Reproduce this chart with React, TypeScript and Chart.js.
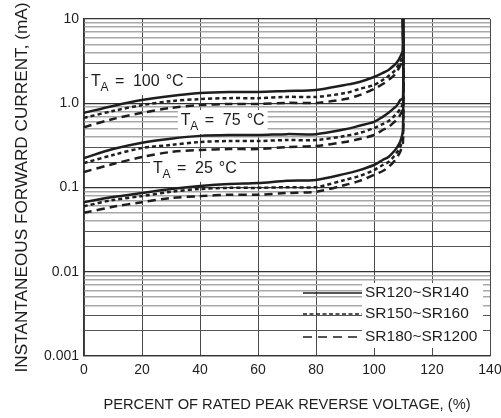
import React, { useEffect, useRef } from 'react';
import { Chart, registerables } from 'chart.js';

Chart.register(...registerables);

// ---- data ----
const xValues = [0, 10, 20, 30, 40, 50, 60, 70, 80, 90, 95, 100, 103, 105, 107, 108, 109, 110, 110];

const t100Solid = [0.77, 0.93, 1.09, 1.22, 1.32, 1.36, 1.36, 1.4, 1.44, 1.65, 1.79, 2.05, 2.29, 2.48, 2.84, 3.09, 3.54, 4.29, 10];
const t100Short = [0.67, 0.81, 0.95, 1.06, 1.12, 1.15, 1.15, 1.19, 1.19, 1.32, 1.48, 1.65, 1.89, 2.11, 2.41, 2.69, 3.09, 3.74, 10];
const t100Long = [0.52, 0.65, 0.77, 0.88, 0.95, 0.98, 0.98, 1.01, 1.01, 1.12, 1.25, 1.48, 1.69, 1.89, 2.16, 2.41, 2.77, 3.44, 10];

const t75Solid = [0.224, 0.286, 0.34, 0.38, 0.41, 0.42, 0.42, 0.43, 0.43, 0.49, 0.54, 0.6, 0.69, 0.77, 0.88, 0.95, 1.09, 1.15, 10];
const t75Short = [0.195, 0.243, 0.294, 0.32, 0.347, 0.356, 0.356, 0.366, 0.366, 0.409, 0.444, 0.509, 0.567, 0.616, 0.706, 0.766, 0.855, 1.007, 10];
const t75Long = [0.153, 0.19, 0.23, 0.264, 0.279, 0.286, 0.286, 0.302, 0.311, 0.347, 0.376, 0.42, 0.481, 0.523, 0.599, 0.65, 0.725, 0.878, 10];

const t25Solid = [0.067, 0.077, 0.086, 0.096, 0.104, 0.11, 0.113, 0.12, 0.123, 0.145, 0.161, 0.185, 0.212, 0.23, 0.271, 0.302, 0.347, 0.481, 10];
const t25Short = [0.06, 0.071, 0.079, 0.089, 0.096, 0.099, 0.099, 0.101, 0.101, 0.123, 0.137, 0.161, 0.185, 0.201, 0.237, 0.264, 0.302, 0.398, 10];
const t25Long = [0.05, 0.059, 0.067, 0.075, 0.079, 0.082, 0.082, 0.086, 0.089, 0.107, 0.12, 0.141, 0.157, 0.175, 0.206, 0.23, 0.264, 0.347, 10];

const seriesNames = ['SR120~SR140', 'SR150~SR160', 'SR180~SR1200'];
const tempLabels = ['100', '75', '25'];
const tempLabelX = [2.4, 33.4, 23.8];
const tempLabelY = [1.6, 0.552, 0.149];

const xTicks = [0, 20, 40, 60, 80, 100, 120, 140];
const yTickValues = [0.001, 0.01, 0.1, 1, 10];
const yTickLabels = ['0.001', '0.01', '0.1', '1.0', '10'];

const xTitle = 'PERCENT OF RATED PEAK REVERSE VOLTAGE, (%)';
const yTitle = 'INSTANTANEOUS FORWARD CURRENT, (mA)';

// ---- styling ----
const INK = '#1e1e1e';
const SANS = '"Liberation Sans", Arial, sans-serif';
const dashStyles: number[][] = [[], [4, 3], [8, 5]];
const legendDash: number[][] = [[], [4, 2.5], [9, 6]];

const groups = [
  [t100Solid, t100Short, t100Long],
  [t75Solid, t75Short, t75Long],
  [t25Solid, t25Short, t25Long],
];

const yGridTicks: number[] = [];
yTickValues.slice(0, -1).forEach((d) => {
  for (let m = 1; m <= 9; m++) yGridTicks.push(parseFloat((m * d).toPrecision(6)));
});
yGridTicks.push(yTickValues[yTickValues.length - 1]);

const isDecade = (v: number) => Math.abs(Math.log10(v) - Math.round(Math.log10(v))) < 1e-6;
const mantissa = (v: number) => Math.round(v / Math.pow(10, Math.floor(Math.log10(v) + 1e-9)));

const overlayPlugin = {
  id: 'overlay',
  beforeDatasetsDraw(chart: any) {
    const { ctx, chartArea, scales } = chart;
    const xs = scales.x;
    const ys = scales.y;
    ctx.save();
    // temperature labels
    tempLabels.forEach((t, i) => {
      const px = xs.getPixelForValue(tempLabelX[i]);
      const py = ys.getPixelForValue(tempLabelY[i]);
      ctx.font = `16px ${SANS}`;
      const numW = ctx.measureText(t).width;
      const cW = ctx.measureText('°C').width;
      const numX = px + 42;
      const cX = numX + numW + 6;
      ctx.fillStyle = '#ffffff';
      ctx.fillRect(px - 3, py - 15, cX + cW + 3 - (px - 3), 24);
      ctx.fillStyle = INK;
      ctx.textBaseline = 'alphabetic';
      ctx.textAlign = 'left';
      ctx.fillText('T', px, py);
      ctx.fillText('=', px + 24, py);
      ctx.fillText(t, numX, py);
      ctx.fillText('°C', cX, py);
      ctx.font = `12px ${SANS}`;
      ctx.fillText('A', px + 9.5, py + 5);
    });
    // legend
    const r = chartArea.right;
    const b = chartArea.bottom;
    ctx.fillStyle = '#ffffff';
    ctx.fillRect(r - 128, b - 73, 121, 65);
    const rowsY = [b - 63, b - 42, b - 19];
    seriesNames.forEach((name, i) => {
      ctx.beginPath();
      ctx.setLineDash(legendDash[i]);
      ctx.lineWidth = 1.5;
      ctx.strokeStyle = INK;
      ctx.moveTo(r - 187, rowsY[i]);
      ctx.lineTo(r - 128, rowsY[i]);
      ctx.stroke();
      ctx.setLineDash([]);
      ctx.fillStyle = INK;
      ctx.font = `15.5px ${SANS}`;
      ctx.textBaseline = 'middle';
      ctx.textAlign = 'left';
      ctx.fillText(name, r - 125, rowsY[i]);
    });
    ctx.restore();
  },
};

export default function App() {
  const canvasRef = useRef<HTMLCanvasElement | null>(null);

  useEffect(() => {
    if (!canvasRef.current) return;
    const datasets: any[] = [];
    groups.forEach((g) => {
      g.forEach((vals, s) => {
        datasets.push({
          label: seriesNames[s],
          data: xValues.map((x, i) => ({ x, y: vals[i] })),
          borderColor: INK,
          borderWidth: 2.5,
          borderDash: dashStyles[s],
          pointRadius: 0,
          tension: 0.3,
          fill: false,
        });
      });
    });

    const chart = new Chart(canvasRef.current, {
      type: 'line',
      data: { datasets },
      options: {
        animation: false,
        responsive: false,
        devicePixelRatio: 1,
        layout: { padding: { left: 0, right: 11, top: 19, bottom: 0 } },
        plugins: { legend: { display: false }, tooltip: { enabled: false } },
        scales: {
          x: {
            type: 'linear',
            min: 0,
            max: 140,
            afterBuildTicks: (scale: any) => {
              scale.ticks = xTicks.map((v) => ({ value: v }));
            },
            afterFit: (scale: any) => {
              scale.height = 62;
              scale.paddingLeft = 0;
              scale.paddingRight = 0;
            },
            ticks: {
              color: INK,
              padding: 6,
              font: { family: SANS, size: 14 },
              callback: (v: any) => String(v),
            },
            grid: { color: '#4a4a4a', lineWidth: 1, drawTicks: false },
            border: { color: '#333', width: 1.2 },
            title: {
              display: true,
              text: xTitle,
              color: INK,
              font: { family: SANS, size: 14.7 },
              padding: { top: 0, bottom: 4 },
            },
          },
          y: {
            type: 'logarithmic',
            min: 0.001,
            max: 10,
            afterBuildTicks: (scale: any) => {
              scale.ticks = yGridTicks.map((v) => ({ value: v }));
            },
            afterFit: (scale: any) => {
              scale.width = 84;
              scale.paddingTop = 0;
              scale.paddingBottom = 0;
            },
            ticks: {
              color: INK,
              padding: 5,
              autoSkip: false,
              font: { family: SANS, size: 14 },
              callback: (v: any) => {
                const idx = yTickValues.findIndex((t) => Math.abs(t - v) / t < 1e-6);
                return idx >= 0 ? yTickLabels[idx] : '';
              },
            },
            grid: {
              drawTicks: false,
              color: (c: any) => {
                const v = c.tick ? c.tick.value : 1;
                if (isDecade(v)) return '#333';
                return mantissa(v) <= 3 ? '#555' : '#a8a8a8';
              },
              lineWidth: (c: any) => {
                const v = c.tick ? c.tick.value : 1;
                if (isDecade(v)) return 1.2;
                return mantissa(v) <= 3 ? 1 : 1.4;
              },
            },
            border: { color: '#333', width: 1.2 },
            title: {
              display: true,
              text: yTitle,
              color: INK,
              font: { family: SANS, size: 17.2 },
              padding: { top: 12, bottom: 0 },
            },
          },
        },
      },
      plugins: [overlayPlugin],
    } as any);

    return () => chart.destroy();
  }, []);

  return (
    <div style={{ position: 'fixed', left: 0, top: 0, width: 501, height: 418, background: '#fff' }}>
      <canvas ref={canvasRef} width={501} height={418} style={{ width: 501, height: 418, display: 'block' }} />
    </div>
  );
}
